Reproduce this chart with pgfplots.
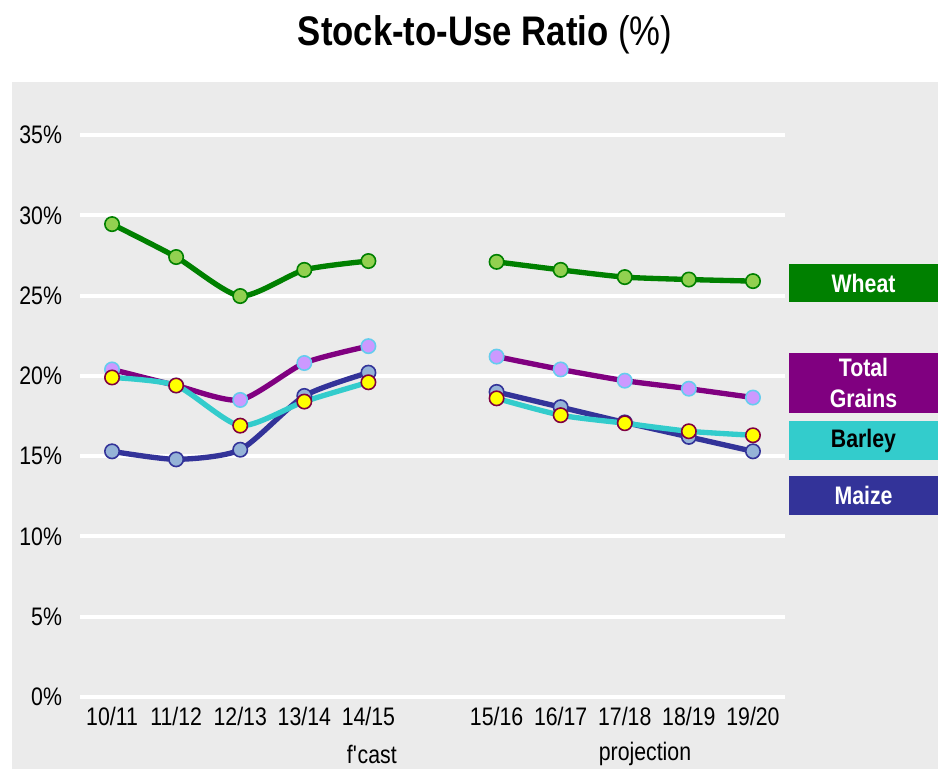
\documentclass[border=0pt]{standalone}
\usepackage{pgfplots}
\pgfplotsset{compat=1.18}
\usepackage{fontspec}
\setmainfont{Liberation Sans}[FakeStretch=0.84]
\definecolor{bg}{RGB}{235,235,235}
\definecolor{wline}{RGB}{0,128,0}
\definecolor{wfill}{RGB}{146,208,80}
\definecolor{gline}{RGB}{128,0,128}
\definecolor{gfill}{RGB}{204,153,255}
\definecolor{gedge}{RGB}{102,204,238}
\definecolor{bline}{RGB}{51,204,204}
\definecolor{bfill}{RGB}{255,255,0}
\definecolor{bedge}{RGB}{128,0,64}
\definecolor{mline}{RGB}{51,51,153}
\definecolor{mfill}{RGB}{149,179,215}
\begin{document}
\begin{tikzpicture}[x=0.75pt,y=0.75pt]
\useasboundingbox (0,0) rectangle (938,769);
\fill[bg] (12,0) rectangle (938,687);
\node[font=\bfseries\fontsize{31}{36}\selectfont] at (485,734) {Stock-to-Use Ratio \mdseries(\%)};
\begin{axis}[
  at={(60pt,54pt)}, anchor=south west,
  scale only axis, width=528.75pt, height=421.5pt,
  xmin=-0.5, xmax=10.5, ymin=0, ymax=35,
  axis line style={draw=none},
  major tick length=0pt,
  ytick={0,5,...,35},
  yticklabels={0\%,5\%,10\%,15\%,20\%,25\%,30\%,35\%},
  xtick={0,1,2,3,4,6,7,8,9,10},
  xticklabels={10/11,11/12,12/13,13/14,14/15,15/16,16/17,17/18,18/19,19/20},
  ymajorgrids, grid style={white, line width=3pt},
  tick label style={font=\fontsize{19}{21}\selectfont},
  yticklabel style={xshift=-10pt},
  xticklabel style={yshift=-4pt},
  clip=false,
  every axis plot/.append style={smooth, tension=0.4, line width=4pt, mark=*, mark size=5.4pt},
]
% Wheat
\addplot[wline, mark options={fill=wfill, draw=wline, line width=1.2pt}] coordinates {(0,29.45) (1,27.4) (2,24.97) (3,26.6) (4,27.15)};
\addplot[wline, mark options={fill=wfill, draw=wline, line width=1.2pt}] coordinates {(6,27.1) (7,26.6) (8,26.15) (9,26.0) (10,25.9)};
% Total grains
\addplot[gline, mark options={fill=gfill, draw=gedge, line width=1.2pt}] coordinates {(0,20.4) (1,19.4) (2,18.5) (3,20.8) (4,21.85)};
\addplot[gline, mark options={fill=gfill, draw=gedge, line width=1.2pt}] coordinates {(6,21.2) (7,20.4) (8,19.7) (9,19.2) (10,18.65)};
% Maize
\addplot[mline, mark options={fill=mfill, draw=mline, line width=1.2pt}] coordinates {(0,15.3) (1,14.8) (2,15.4) (3,18.75) (4,20.2)};
\addplot[mline, mark options={fill=mfill, draw=mline, line width=1.2pt}] coordinates {(6,19.0) (7,18.05) (8,17.1) (9,16.2) (10,15.3)};
% Barley
\addplot[bline, mark options={fill=bfill, draw=bedge, line width=1.2pt}] coordinates {(0,19.9) (1,19.4) (2,16.9) (3,18.4) (4,19.6)};
\addplot[bline, mark options={fill=bfill, draw=bedge, line width=1.2pt}] coordinates {(6,18.6) (7,17.55) (8,17.05) (9,16.55) (10,16.3)};
\end{axis}
\node[anchor=east, font=\fontsize{19}{21}\selectfont, inner sep=0pt] at (397,15) {f\textquotesingle cast};
\node[font=\fontsize{19}{21}\selectfont, inner sep=0pt] at (645,15) {projection};
\begin{scope}[every node/.style={font=\bfseries\fontsize{19}{23}\selectfont, align=center}]
\fill[wline] (789,467) rectangle (938,505);
\node[white] at (863.5,486) {Wheat};
\fill[gline] (789,356) rectangle (938,416);
\node[white] at (863.5,386) {Total\\Grains};
\fill[bline] (789,309) rectangle (938,348);
\node[black] at (863.5,328.5) {Barley};
\fill[mline] (789,254) rectangle (938,293);
\node[white] at (863.5,273.5) {Maize};
\end{scope}
\end{tikzpicture}
\end{document}
